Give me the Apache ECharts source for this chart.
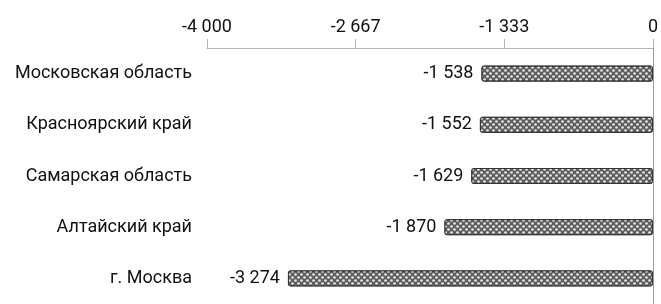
<!DOCTYPE html>
<html lang="ru">
<head>
    <meta charset="UTF-8">
    <title>Регионы</title>
    <style>
        html, body { margin: 0; padding: 0; background: #fff; }
        #main { width: 661px; height: 304px; }
    </style>
</head>
<body>
<div id="main"></div>
<script src="https://cdn.jsdelivr.net/npm/echarts@6/dist/echarts.min.js"></script>
<script type="text/javascript">
    // данные
    var regions = ['Московская область', 'Красноярский край', 'Самарская область', 'Алтайский край', 'г. Москва'];
    var values = [-1538, -1552, -1629, -1870, -3274];
    var tickValues = [-4000, -2667, -1333, 0];

    function fmt(v) {
        var n = Math.round(v);
        var s = String(Math.abs(n)).replace(/\B(?=(\d{3})+(?!\d))/g, ' ');
        return (n < 0 ? '-' : '') + s;
    }

    var myChart = echarts.init(document.getElementById('main'));
    var option = {
        animation: false,
        textStyle: { fontFamily: 'Roboto' },
        grid: { left: 207, right: 6, top: 48, height: 264 },
        xAxis: {
            type: 'value',
            position: 'top',
            min: tickValues[0],
            max: tickValues[tickValues.length - 1],
            interval: (tickValues[tickValues.length - 1] - tickValues[0]) / 3,
            axisLine: { show: true, lineStyle: { color: '#b5b5b5', width: 1 } },
            axisTick: { show: true, length: 9, lineStyle: { color: '#b5b5b5' } },
            axisLabel: { margin: 12, color: '#111', fontSize: 18, formatter: fmt },
            splitLine: { show: false }
        },
        yAxis: [{
            type: 'category',
            data: regions,
            inverse: true,
            position: 'left',
            axisLine: { show: false },
            axisTick: { show: false },
            axisLabel: { margin: 15, color: '#111', fontSize: 18 }
        }, {
            type: 'category',
            data: regions,
            inverse: true,
            position: 'right',
            axisLine: { show: true, lineStyle: { color: '#999', width: 1 } },
            axisTick: { show: false },
            axisLabel: { show: false }
        }],
        series: [{
            type: 'bar',
            data: values,
            barWidth: 16,
            itemStyle: {
                color: '#5e5e5e',
                borderColor: '#333',
                borderWidth: 1,
                borderRadius: 2,
                decal: {
                    symbol: 'circle',
                    symbolSize: 0.9,
                    color: 'rgba(255,255,255,0.85)',
                    dashArrayX: [[3, 3], [0, 3, 3, 0]],
                    dashArrayY: [3, 0]
                }
            },
            label: {
                show: true,
                position: 'left',
                distance: 8,
                color: '#111',
                fontSize: 18,
                formatter: function (p) { return fmt(p.value); }
            }
        }]
    };
    myChart.setOption(option);
</script>
</body>
</html>
